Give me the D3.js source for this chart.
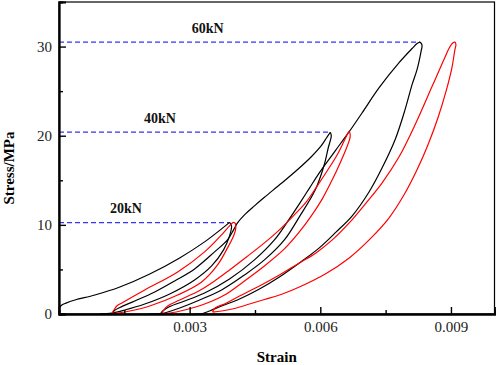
<!DOCTYPE html>
<html>
<head>
<meta charset="utf-8">
<script src="https://cdn.jsdelivr.net/npm/d3@7"></script>
<style>
  html, body { margin: 0; padding: 0; background: #fff; }
  svg { display: block; }
  text { font-family: "Liberation Serif", "Times New Roman", serif; }
</style>
</head>
<body>
<svg id="chart" width="498" height="365"></svg>
<script>
// ---------- data ----------
const xMajorTicks = [0.003, 0.006, 0.009];
const xMinorTicks = [0.0015, 0.0045, 0.0075];
const yMajorTicks = [0, 10, 20, 30];
const yMinorTicks = [5, 15, 25];
const xTickLabels = ["0.003", "0.006", "0.009"];
const yTickLabels = ["0", "10", "20", "30"];

// load levels: name, peak stress, strain at black peak, label strain
const loadNames = ["20kN", "40kN", "60kN"];
const loadStress = [10.26, 20.4, 30.5];
const loadPeakStrain = [0.003916, 0.006229, 0.00829];
const loadLabelStrain = [0.00117, 0.00195, 0.00305];

// black curves [strain, stress]
const blackLoad20 = [[0,0.6],[0.05e-3,0.95],[0.16e-3,1.22],[0.366e-3,1.57],[0.824e-3,2.13],[1.397e-3,3.03],[2.084e-3,4.49],[2.771e-3,6.29],[3.343e-3,8.09],[3.733e-3,9.55],[3.916e-3,10.28]];
const blackUnload20 = [[3.916e-3,10.28],[3.962e-3,9.89],[3.916e-3,8.76],[3.779e-3,7.19],[3.504e-3,5.39],[3.114e-3,3.82],[2.542e-3,2.25],[1.969e-3,1.12],[1.511e-3,0.45],[1.214e-3,0.11],[0.939e-3,0]];
const blackLoad40 = [[0.939e-3,0],[1.214e-3,0.02],[1.26e-3,0.34],[1.397e-3,0.73],[1.74e-3,1.46],[2.198e-3,2.47],[2.656e-3,3.71],[3.114e-3,5.06],[3.572e-3,6.97],[3.87e-3,8.31],[4.008e-3,9.44],[4.099e-3,10.22],[4.259e-3,11.12],[4.488e-3,12.13],[4.717e-3,13.09],[5.107e-3,14.66],[5.473e-3,16.18],[5.794e-3,17.64],[6.023e-3,18.88],[6.137e-3,19.72],[6.229e-3,20.39]];
const blackUnload40 = [[6.229e-3,20.39],[6.252e-3,20.0],[6.183e-3,18.65],[6.091e-3,16.74],[5.885e-3,13.93],[5.519e-3,10.9],[5.175e-3,8.31],[4.717e-3,6.07],[4.259e-3,4.38],[3.733e-3,2.7],[3.229e-3,1.57],[2.771e-3,0.67],[2.496e-3,0.22],[2.313e-3,0],[2.084e-3,0]];
const blackLoad60 = [[2.084e-3,0],[2.313e-3,0.02],[2.382e-3,0.34],[2.542e-3,0.84],[2.885e-3,1.46],[3.343e-3,2.36],[3.916e-3,3.93],[4.488e-3,6.07],[4.946e-3,8.31],[5.29e-3,10.67],[5.519e-3,12.36],[5.748e-3,14.1],[5.977e-3,15.84],[6.343e-3,18.31],[6.664e-3,20.45],[6.962e-3,22.58],[7.351e-3,25.39],[7.809e-3,28.2],[8.107e-3,29.78],[8.221e-3,30.34],[8.29e-3,30.51]];
const blackUnload60 = [[8.29e-3,30.51],[8.336e-3,30.17],[8.313e-3,29.44],[8.221e-3,27.42],[8.107e-3,25.73],[7.946e-3,22.92],[7.717e-3,19.55],[7.42e-3,16.4],[7.122e-3,13.71],[6.733e-3,11.01],[6.366e-3,9.21],[5.977e-3,7.42],[5.519e-3,5.73],[5.061e-3,4.16],[4.603e-3,2.81],[4.145e-3,1.69],[3.733e-3,0.9],[3.458e-3,0.34],[3.297e-3,0.06],[3.114e-3,0]];

// red loops [strain, stress]
const redLoop20 = [[1.214e-3,0.06],[1.26e-3,0.45],[1.328e-3,0.9],[1.443e-3,1.24],[1.969e-3,2.7],[2.725e-3,4.72],[3.343e-3,6.97],[3.733e-3,8.88],[3.916e-3,9.89],[4.008e-3,10.28],[4.053e-3,10.11],[4.053e-3,9.44],[4.008e-3,8.76],[3.87e-3,7.42],[3.641e-3,5.51],[3.275e-3,3.6],[2.725e-3,2.13],[2.084e-3,0.9],[1.626e-3,0.34],[1.351e-3,0.11],[1.214e-3,0.06]];
const redLoop40 = [[2.359e-3,0.06],[2.405e-3,0.45],[2.496e-3,0.9],[2.771e-3,1.57],[3.229e-3,2.64],[3.572e-3,3.71],[3.916e-3,4.94],[4.305e-3,6.4],[4.717e-3,7.98],[5.061e-3,9.44],[5.404e-3,11.12],[5.679e-3,12.58],[5.931e-3,14.38],[6.16e-3,16.07],[6.389e-3,17.87],[6.549e-3,19.44],[6.641e-3,20.34],[6.664e-3,20.45],[6.687e-3,20.0],[6.664e-3,19.44],[6.595e-3,18.54],[6.458e-3,16.97],[6.275e-3,15.06],[6.046e-3,12.92],[5.794e-3,11.01],[5.519e-3,9.21],[5.175e-3,7.3],[4.717e-3,5.39],[4.259e-3,3.71],[3.801e-3,2.13],[3.343e-3,1.12],[2.885e-3,0.45],[2.542e-3,0.11],[2.359e-3,0.06]];
const redLoop60 = [[3.527e-3,0.22],[3.561e-3,0.56],[3.641e-3,0.84],[3.801e-3,1.12],[4.145e-3,2.02],[4.603e-3,3.15],[5.061e-3,4.38],[5.519e-3,5.73],[5.901e-3,6.85],[6.275e-3,8.31],[6.664e-3,10.22],[7.053e-3,12.47],[7.42e-3,14.72],[7.809e-3,17.64],[8.198e-3,21.46],[8.565e-3,25.51],[8.839e-3,28.54],[8.954e-3,29.78],[9.046e-3,30.42],[9.091e-3,30.5],[9.114e-3,30.22],[9.091e-3,29.66],[9.023e-3,27.64],[8.885e-3,24.94],[8.702e-3,22.02],[8.473e-3,18.99],[8.221e-3,16.18],[7.923e-3,13.37],[7.58e-3,10.79],[7.168e-3,8.54],[6.664e-3,6.29],[6.114e-3,4.49],[5.519e-3,3.03],[5.13e-3,2.25],[4.717e-3,1.63],[4.374e-3,1.12],[4.03e-3,0.62],[3.733e-3,0.34],[3.527e-3,0.22]];

const blackCurves = [blackLoad20, blackUnload20, blackLoad40, blackUnload40, blackLoad60, blackUnload60];
const redCurves = [redLoop20, redLoop40, redLoop60];

// ---------- layout ----------
const svg = d3.select("#chart");
const pL = 59, pR = 494.5, pT = 2, pB = 314;
const x = d3.scaleLinear().domain([0, 0.01]).range([pL, pR]);
const y = d3.scaleLinear().domain([0, 35]).range([pB, pT]);

// dashed load lines
loadNames.forEach((name, i) => {
  svg.append("line")
    .attr("x1", x(0)).attr("x2", x(loadPeakStrain[i]))
    .attr("y1", y(loadStress[i])).attr("y2", y(loadStress[i]))
    .attr("stroke", "#3535f5").attr("stroke-width", 1.3)
    .attr("stroke-dasharray", "5,3");
  svg.append("text")
    .attr("x", x(loadLabelStrain[i]))
    .attr("y", y(loadStress[i]) - 9.5)
    .attr("font-size", 14).attr("font-weight", "bold")
    .attr("fill", "#111")
    .text(name);
});

const line = d3.line()
  .x(d => x(d[0])).y(d => y(d[1]))
  .curve(d3.curveCatmullRom.alpha(0.5));

svg.append("g").selectAll("path").data(blackCurves).join("path")
  .attr("d", line).attr("fill", "none")
  .attr("stroke", "#000").attr("stroke-width", 1.2);

svg.append("g").selectAll("path").data(redCurves).join("path")
  .attr("d", line).attr("fill", "none")
  .attr("stroke", "#ff0000").attr("stroke-width", 1.2);

// frame
svg.append("rect")
  .attr("x", pL).attr("y", pT)
  .attr("width", pR - pL).attr("height", pB - pT)
  .attr("fill", "none").attr("stroke", "#000").attr("stroke-width", 1.2);

// axes
const xAxis = d3.axisBottom(x).tickValues(xMajorTicks)
  .tickFormat((d, i) => xTickLabels[i]).tickSize(-7).tickPadding(7);
const gx = svg.append("g").attr("transform", `translate(0,${pB})`).call(xAxis);
const xAxisMinor = d3.axisBottom(x).tickValues(xMinorTicks).tickFormat("").tickSize(-4);
const gxm = svg.append("g").attr("transform", `translate(0,${pB})`).call(xAxisMinor);

const yAxis = d3.axisLeft(y).tickValues(yMajorTicks)
  .tickFormat((d, i) => yTickLabels[i]).tickSize(-7).tickPadding(7);
const gy = svg.append("g").attr("transform", `translate(${pL},0)`).call(yAxis);
const yAxisMinor = d3.axisLeft(y).tickValues(yMinorTicks).tickFormat("").tickSize(-4);
const gym = svg.append("g").attr("transform", `translate(${pL},0)`).call(yAxisMinor);

[gx, gxm, gy, gym].forEach(g => {
  g.select(".domain").attr("stroke", "#000").attr("stroke-width", 1.8);
  g.selectAll(".tick line").attr("stroke", "#000").attr("stroke-width", 1.4);
  g.selectAll(".tick text")
    .attr("font-family", "'Liberation Serif', 'Times New Roman', serif")
    .attr("font-size", 15).attr("fill", "#222");
});

// axis titles
svg.append("text")
  .attr("x", (pL + pR) / 2).attr("y", 362)
  .attr("text-anchor", "middle")
  .attr("font-size", 15).attr("font-weight", "bold")
  .text("Strain");
svg.append("text")
  .attr("transform", "translate(13.5,168) rotate(-90)")
  .attr("text-anchor", "middle")
  .attr("font-size", 15).attr("font-weight", "bold")
  .text("Stress/MPa");
</script>
</body>
</html>
